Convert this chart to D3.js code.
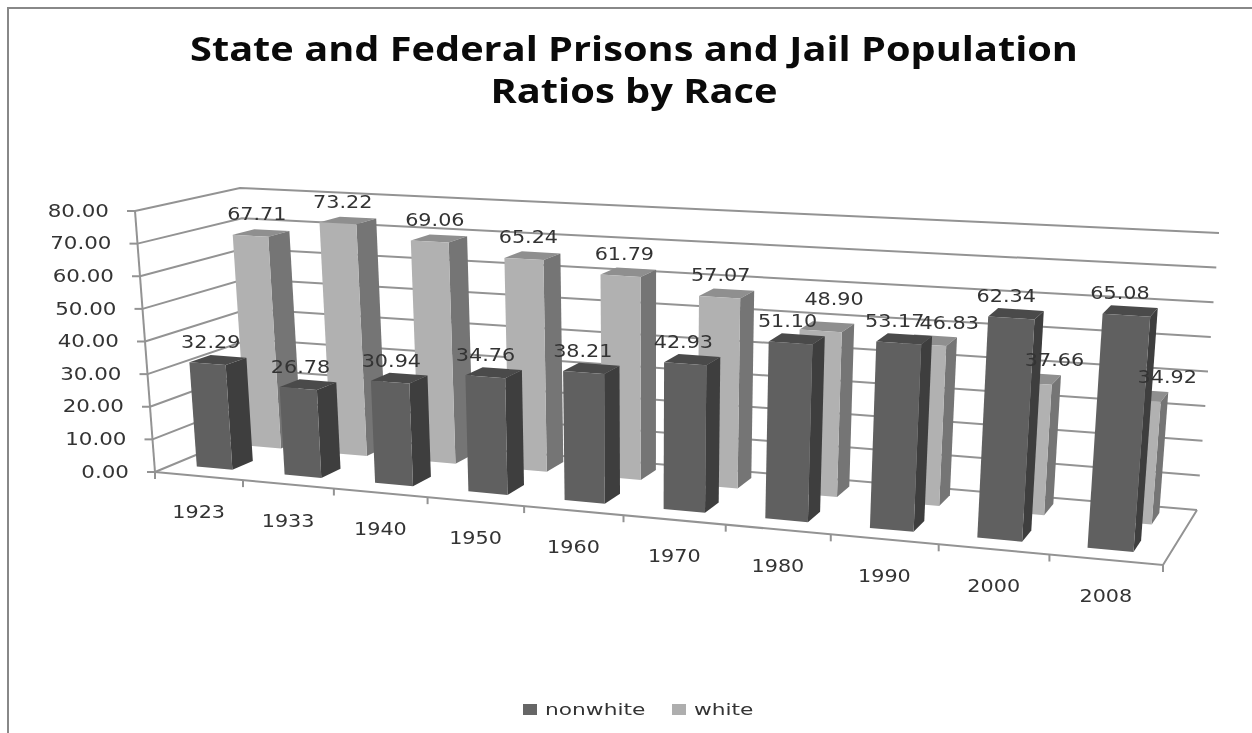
<!DOCTYPE html>
<html>
<head>
<meta charset="utf-8">
<script src="https://cdnjs.cloudflare.com/ajax/libs/d3/7.8.5/d3.min.js"></script>
<style>
html,body{margin:0;padding:0;background:#fff;overflow:hidden}
svg{display:block;filter:blur(0.5px)}
text{font-family:"DejaVu Sans",sans-serif;fill:#333}
</style>
</head>
<body>
<svg id="chart" width="1252" height="733"></svg>
<script>
const categories = ["1923","1933","1940","1950","1960","1970","1980","1990","2000","2008"];
const nonwhite = [32.29,26.78,30.94,34.76,38.21,42.93,51.10,53.17,62.34,65.08];
const white = [67.71,73.22,69.06,65.24,61.79,57.07,48.90,46.83,37.66,34.92];
const yTicks = [0,10,20,30,40,50,60,70,80];
const titleLines = ["State and Federal Prisons and Jail Population","Ratios by Race"];
const seriesNames = ["nonwhite","white"];

// box corners of the 3-D plot (bottom/top, front/back, left/right)
const box = {
  fbl:[155,472], fbr:[1163,565], bbl:[256,430], bbr:[1197,510],
  ftl:[135,211], ftr:[1185,272], btl:[240,188], btr:[1219,233]
};
const depth = { nonwhite:[0.18,0.39], white:[0.68,0.89] };
const lerp = (a,b,t)=>[a[0]+(b[0]-a[0])*t, a[1]+(b[1]-a[1])*t];
const yFrac = d3.scaleLinear().domain([0,80]).range([0,1]);
const idx = d3.scaleLinear().domain([0,categories.length]).range([0,1]);
// perspective widening of categories toward the viewer's right
const warp = t => { const i=t*10; return (86.6*i+1.42*i*i)/1008; };
function P(t,v,h){
  const u=warp(t);
  const bot=lerp(lerp(box.fbl,box.fbr,u),lerp(box.bbl,box.bbr,u),v);
  const up=lerp(lerp(box.ftl,box.ftr,u),lerp(box.btl,box.btr,u),v);
  return lerp(bot,up,h);
}
const pth = pts => "M"+pts.map(p=>p[0].toFixed(1)+","+p[1].toFixed(1)).join("L")+"Z";
const lineP = pts => "M"+pts.map(p=>p[0].toFixed(1)+","+p[1].toFixed(1)).join("L");

const svg = d3.select("#chart");
const gridColor="#939393";

// frame
svg.append("path").attr("d","M8,733V8H1252").attr("fill","none").attr("stroke","#888").attr("stroke-width",2);

// title
svg.selectAll("text.title").data(titleLines).enter().append("text").attr("class","title")
  .attr("x",634).attr("y",(d,i)=>61+i*42).attr("text-anchor","middle")
  .style("font-family","'Open Sans',sans-serif").style("font-weight",700).style("font-size","34px").style("fill","#0a0a0a")
  .attr("textLength",(d,i)=>i===0?888:287).attr("lengthAdjust","spacingAndGlyphs")
  .text(d=>d);

// gridlines
const grid = svg.append("g").attr("fill","none").attr("stroke",gridColor).attr("stroke-width",2);
yTicks.forEach(k=>{
  const h=yFrac(k);
  grid.append("path").attr("d",lineP([P(0,0,h),P(0,1,h),P(1,1,h)]));
});
grid.append("path").attr("d",lineP([P(0,0,0),P(0,0,1)]));
grid.append("path").attr("d",lineP([P(0,0,0),P(1,0,0),P(1,1,0)]));
// y ticks
yTicks.forEach(k=>{
  const p=P(0,0,yFrac(k));
  grid.append("path").attr("d",`M${p[0]-8},${p[1]}H${p[0]}`);
});
// x ticks
d3.range(categories.length+1).forEach(i=>{
  const p=P(idx(i),0,0);
  grid.append("path").attr("d",`M${p[0]},${p[1]}v7`);
});

// bars
const barFrac=0.41, barShift=-0.02;
function bar(g,i,val,v0,v1,cols){
  const t0=idx(i+barShift+(1-barFrac)/2), t1=idx(i+barShift+(1+barFrac)/2), h=yFrac(val);
  g.append("path").attr("fill",cols[2]).attr("d",pth([P(t0,v0,h),P(t1,v0,h),P(t1,v1,h),P(t0,v1,h)]));
  g.append("path").attr("fill",cols[1]).attr("d",pth([P(t1,v0,0),P(t1,v1,0),P(t1,v1,h),P(t1,v0,h)]));
  g.append("path").attr("fill",cols[0]).attr("d",pth([P(t0,v0,0),P(t1,v0,0),P(t1,v0,h),P(t0,v0,h)]));
}
const whiteCols=["#b1b1b1","#757575","#8f8f8f"], nonCols=["#606060","#3e3e3e","#4a4a4a"];
const bars=svg.append("g");
white.forEach((d,i)=>bar(bars,i,d,depth.white[0],depth.white[1],whiteCols));
nonwhite.forEach((d,i)=>bar(bars,i,d,depth.nonwhite[0],depth.nonwhite[1],nonCols));

// stretched text helper
function stext(g,x,y,s,size,sx,anchor){
  return g.append("text").attr("transform",`translate(${x},${y}) scale(${sx},1)`)
    .attr("text-anchor",anchor||"middle").attr("dominant-baseline","central")
    .style("font-size",size+"px").text(s);
}
const labels=svg.append("g");
// y labels
yTicks.forEach(k=>{
  const p=P(0,0,yFrac(k));
  stext(labels,p[0]-26,p[1],d3.format(".2f")(k),17,1.26,"end");
});
// category labels
categories.forEach((c,i)=>{
  const p=P(idx(i+0.5),0,0);
  stext(labels,p[0],p[1]+36,c,17,1.22);
});
// data labels: offsets from the bar top, as the original's label placement
const whiteNudgeX=[-6,-7,-6,-6,-6,-8,5,17,18,23];
const whiteNudgeY=[-19,-19,-19,-19,-19,-19,-28,-18,-19,-19];
function barTop(i,val,d){ return P(idx(i+0.5),(d[0]+d[1])/2,yFrac(val)); }
white.forEach((d,i)=>{const p=barTop(i,d,depth.white); stext(labels,p[0]+whiteNudgeX[i],p[1]+whiteNudgeY[i],d.toFixed(2),17,1.22);});
nonwhite.forEach((d,i)=>{const p=barTop(i,d,depth.nonwhite); stext(labels,p[0]-9-i*0.4,p[1]-18,d.toFixed(2),17,1.22);});

// legend
const legend=svg.append("g");
const lx=d3.scaleOrdinal().domain(seriesNames).range([523,672]);
seriesNames.forEach((n,i)=>{
  legend.append("rect").attr("x",lx(n)).attr("y",704).attr("width",14).attr("height",11)
    .attr("fill",i===0?"#666":"#aeaeae");
  stext(legend,lx(n)+22,710,n,16,1.36,"start");
});
</script>
</body>
</html>
